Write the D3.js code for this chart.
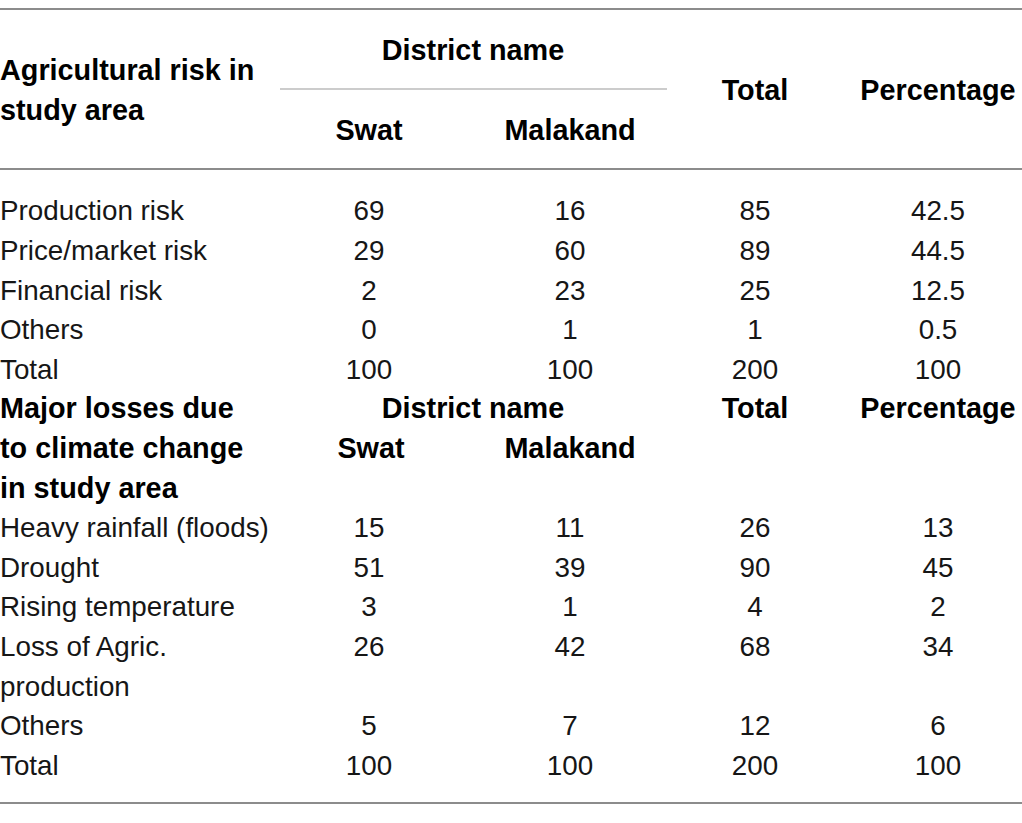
<!DOCTYPE html>
<html>
<head>
<meta charset="utf-8">
<script src="https://cdn.jsdelivr.net/npm/d3@7/dist/d3.min.js"></script>
<style>
  html, body { margin: 0; padding: 0; background: #fff; }
  svg { display: block; }
  text { font-family: "Liberation Sans", Arial, Helvetica, sans-serif; font-size: 27.8px; fill: #161616; }
  .b { font-weight: bold; font-size: 28.8px; fill: #000; }
</style>
</head>
<body>
<svg id="chart" width="1022" height="823"></svg>
<script>
// ---- Data ----
const columns = ["Swat", "Malakand", "Total", "Percentage"];
const groupHeader = "District name";

const riskHeader = ["Agricultural risk in", "study area"];
const riskCategories = [["Production risk"], ["Price/market risk"], ["Financial risk"], ["Others"], ["Total"]];
const riskSwat = ["69", "29", "2", "0", "100"];
const riskMalakand = ["16", "60", "23", "1", "100"];
const riskTotal = ["85", "89", "25", "1", "200"];
const riskPercentage = ["42.5", "44.5", "12.5", "0.5", "100"];

const lossHeader = ["Major losses due", "to climate change", "in study area"];
const lossCategories = [["Heavy rainfall (floods)"], ["Drought"], ["Rising temperature"], ["Loss of Agric.", "production"], ["Others"], ["Total"]];
const lossSwat = ["15", "51", "3", "26", "5", "100"];
const lossMalakand = ["11", "39", "1", "42", "7", "100"];
const lossTotal = ["26", "90", "4", "68", "12", "200"];
const lossPercentage = ["13", "45", "2", "34", "6", "100"];

// ---- Layout ----
const svg = d3.select("#chart");
const W = 1022;
const xCol = d3.scaleOrdinal().domain(columns).range([369, 570, 755, 938]);
const groupX = 473;
const lineH = 39.6;
const firstRow = 210.3;
const yLine = d3.scaleLinear().domain([0, 1]).range([firstRow, firstRow + lineH]);
const base = 10; // baseline offset from line centre

function txt(x, yc, s, anchor, bold) {
  svg.append("text")
    .attr("x", x).attr("y", yc + base)
    .attr("text-anchor", anchor)
    .attr("class", bold ? "b" : null)
    .text(s);
}

// Rules
function rule(x1, x2, y, w, c) {
  svg.append("line").attr("x1", x1).attr("x2", x2).attr("y1", y).attr("y2", y)
    .attr("stroke", c).attr("stroke-width", w);
}
rule(0, W, 9, 2, "#8c8c8c");
rule(280, 667, 89, 1.2, "#9a9a9a");
rule(0, W, 169, 2, "#8c8c8c");
rule(0, W, 803, 2, "#8c8c8c");

// Header section 1
txt(0, 70, riskHeader[0], "start", true);
txt(0, 110, riskHeader[1], "start", true);
txt(groupX, 50, groupHeader, "middle", true);
txt(xCol("Swat"), 130, "Swat", "middle", true);
txt(xCol("Malakand"), 130, "Malakand", "middle", true);
txt(xCol("Total"), 90, "Total", "middle", true);
txt(xCol("Percentage"), 90, "Percentage", "middle", true);

// Section 1 rows
let line = 0;
function drawRows(cats, sw, ma, to, pc) {
  cats.forEach((c, i) => {
    const yc = yLine(line);
    c.forEach((s, k) => txt(0, yLine(line + k), s, "start", false));
    txt(xCol("Swat"), yc, sw[i], "middle", false);
    txt(xCol("Malakand"), yc, ma[i], "middle", false);
    txt(xCol("Total"), yc, to[i], "middle", false);
    txt(xCol("Percentage"), yc, pc[i], "middle", false);
    line += c.length;
  });
}
drawRows(riskCategories, riskSwat, riskMalakand, riskTotal, riskPercentage);

// Header section 2
const h2 = line;
lossHeader.forEach((s, k) => txt(0, yLine(h2 + k), s, "start", true));
txt(groupX, yLine(h2), groupHeader, "middle", true);
txt(xCol("Total"), yLine(h2), "Total", "middle", true);
txt(xCol("Percentage"), yLine(h2), "Percentage", "middle", true);
txt(xCol("Swat") + 2, yLine(h2 + 1), "Swat", "middle", true);
txt(xCol("Malakand"), yLine(h2 + 1), "Malakand", "middle", true);
line += lossHeader.length;

drawRows(lossCategories, lossSwat, lossMalakand, lossTotal, lossPercentage);
</script>
</body>
</html>
